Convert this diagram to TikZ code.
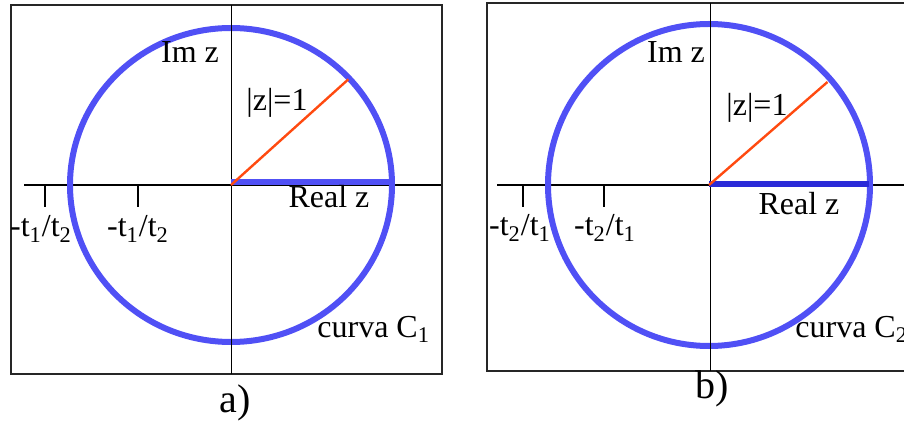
\documentclass[tikz,border=0pt]{standalone}
\usepackage{fontspec}
\setmainfont{Liberation Serif}
\usetikzlibrary{calc}
\definecolor{ringblue}{HTML}{5050F5}
\definecolor{radblue}{HTML}{2A2AD8}
\definecolor{radorange}{HTML}{FF4A10}

\begin{document}
\begin{tikzpicture}[x=0.5pt, y=0.5pt,
  frame/.style={draw=black!85, line width=1pt},
  haxis/.style={draw=black, line width=1pt},
  vaxis/.style={draw=black, line width=0.5pt},
  tickmark/.style={draw=black, line width=1.2pt},
  ring/.style={draw=ringblue, line width=3pt},
  radial/.style={line width=2.6pt},
  unitline/.style={draw=radorange, line width=1.2pt},
  lbl/.style={font=\fontsize{16}{19}\selectfont, inner sep=0pt},
  caption/.style={font=\fontsize{20}{24}\selectfont, inner sep=0pt}]
  \useasboundingbox (0,0) rectangle (904,423);
  % Panel a
  \coordinate (oa) at (231,238);
  \coordinate (axl) at (24,238);
  \coordinate (axr) at (441,238);
  \coordinate (ayt) at (231,418);
  \coordinate (ayb) at (231,49);
  \coordinate (ta1) at (45,238);
  \coordinate (ta2) at (138,238);
  \coordinate (ra) at ($(oa)+(42:158)$);
  \coordinate (ea) at (391,241);
  \draw[frame] (11,49) rectangle (442,418);
  \draw[haxis] (axl) -- (axr);
  \draw[tickmark] (ta1) -- ++(0,-22);
  \draw[tickmark] (ta2) -- ++(0,-22);
  \draw[ring] (oa) ellipse[x radius=161, y radius=157];
  \draw[vaxis] (ayt) -- (ayb);
  \draw[radial, draw=ringblue] ($(oa)+(0,3)$) -- (ea);
  \draw[unitline] (oa) -- (ra);
  \node[lbl] (ima) at (190,371) {Im z};
  \node[lbl] (moda) at (277,320) {|z|=1};
  \node[lbl, anchor=base] (rea) at (329,215) {Real z};
  \node[lbl, anchor=base] (la1) at (41,186) {-t\textsubscript{1}/t\textsubscript{2}};
  \node[lbl, anchor=base] (la2) at (138,186) {-t\textsubscript{1}/t\textsubscript{2}};
  \node[lbl, anchor=base west] (cva) at (317,86) {curva C\textsubscript{1}};
  \node[caption, anchor=base] (capa) at (235,11) {a)};
  % Panel b
  \coordinate (ob) at (709,238);
  \coordinate (bxl) at (497,238);
  \coordinate (bxr) at (906,238);
  \coordinate (byt) at (710,420);
  \coordinate (byb) at (710,52);
  \coordinate (tb1) at (523,238);
  \coordinate (tb2) at (604,238);
  \coordinate (rb) at ($(ob)+(41:157)$);
  \coordinate (eb) at (869,239);
  \draw[frame] (487,52) rectangle (912,420);
  \draw[haxis] (bxl) -- (bxr);
  \draw[tickmark] (tb1) -- ++(0,-22);
  \draw[tickmark] (tb2) -- ++(0,-22);
  \draw[ring] (ob) circle[radius=161];
  \draw[vaxis] (byt) -- (byb);
  \draw[radial, draw=radblue] ($(ob)+(0,1)$) -- (eb);
  \draw[unitline] (ob) -- (rb);
  \node[lbl] (imb) at (676,371) {Im z};
  \node[lbl] (modb) at (757,315) {|z|=1};
  \node[lbl, anchor=base] (reb) at (799,208) {Real z};
  \node[lbl, anchor=base] (lb1) at (520,187) {-t\textsubscript{2}/t\textsubscript{1}};
  \node[lbl, anchor=base] (lb2) at (605,187) {-t\textsubscript{2}/t\textsubscript{1}};
  \node[lbl, anchor=base west] (cvb) at (795,86) {curva C\textsubscript{2}};
  \node[caption, anchor=base] (capb) at (712,25) {b)};
\end{tikzpicture}
\end{document}
